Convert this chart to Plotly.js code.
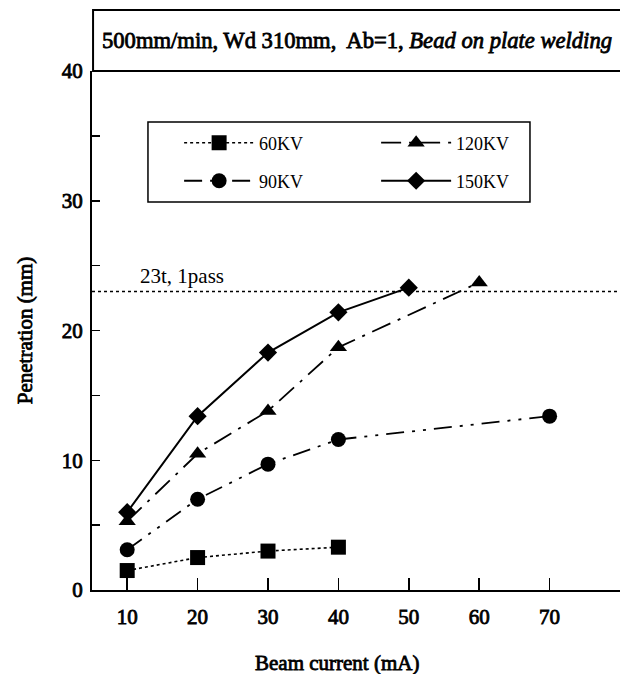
<!DOCTYPE html>
<html>
<head>
<meta charset="utf-8">
<script src="https://cdn.plot.ly/plotly-3.0.1.min.js"></script>
<style>
html,body{margin:0;padding:0;background:#fff;}
#chart{width:620px;height:674px;}
/* Times-like bold: the serif bold face is not installed, so embolden the regular face */
#chart .xtick text, #chart .ytick text, #chart .g-ytitle text,
#chart .annotation[data-index="1"] text, #chart .annotation[data-index="2"] text {
  stroke: #000; stroke-width: 0.8px; paint-order: stroke;
}
</style>
</head>
<body>
<div id="chart"></div>
<script>
// ---- data ----
const x60 = [10, 20, 30, 40];
const y60 = [1.5, 2.5, 3.0, 3.3];
const x90 = [10, 20, 30, 40, 70];
const y90 = [3.1, 7.0, 9.7, 11.6, 13.4];
const x120 = [10, 20, 30, 40, 60];
const y120 = [5.3, 10.5, 13.8, 18.7, 23.7];
const x150 = [10, 20, 30, 40, 50];
const y150 = [6.0, 13.4, 18.3, 21.4, 23.3];
const seriesNames = ['60KV', '90KV', '120KV', '150KV'];
const xTickVals = [10, 20, 30, 40, 50, 60, 70];
const yTickVals = [0, 5, 10, 15, 20, 25, 30, 35, 40];
const yTickText = ['0', '', '10', '', '20', '', '30', '', '40'];
const targetDepth = 23;
const targetLabel = '23t, 1pass';
const headerText = '500mm/min, Wd 310mm,  Ab=1, <i>Bead on plate welding</i>';
const xTitle = 'Beam current (mA)';
const yTitle = 'Penetration (mm)';

const serif = '"Liberation Serif", serif';
const traces = [
  {x: x60, y: y60, name: seriesNames[0], legend: 'legend', legendrank: 1, mode: 'lines+markers',
   line: {color: '#000', width: 1.6, dash: 'dot'},
   marker: {symbol: 'square', size: 15, color: '#000'}},
  {x: x90, y: y90, name: seriesNames[1], legend: 'legend2', legendrank: 3, mode: 'lines+markers',
   line: {color: '#000', width: 1.8, dash: '18px,8px,3px,8px,3px,8px'},
   marker: {symbol: 'circle', size: 15, color: '#000'}},
  {x: x120, y: y120, name: seriesNames[2], legend: 'legend', legendrank: 2, mode: 'lines+markers',
   line: {color: '#000', width: 1.8, dash: '20px,8px,3px,8px'},
   marker: {symbol: 'triangle-up', size: 15, color: '#000'}},
  {x: x150, y: y150, name: seriesNames[3], legend: 'legend2', legendrank: 4, mode: 'lines+markers',
   line: {color: '#000', width: 2},
   marker: {symbol: 'diamond', size: 14, color: '#000'}}
];

const legendCommon = {
  orientation: 'h', xanchor: 'left', yanchor: 'middle', x: 0.165,
  borderwidth: 0, bgcolor: 'rgba(0,0,0,0)',
  font: {family: serif, size: 18, color: '#000'},
  entrywidth: 112, itemwidth: 70
};

const layout = {
  width: 620, height: 674,
  margin: {l: 92, r: 0, t: 71, b: 84, pad: 0},
  paper_bgcolor: '#fff', plot_bgcolor: '#fff',
  font: {family: serif, color: '#000', size: 20},
  showlegend: true,
  legend: Object.assign({}, legendCommon, {y: 0.8613}),
  legend2: Object.assign({}, legendCommon, {y: 0.788}),
  xaxis: {
    range: [5, 80], tickvals: xTickVals, ticks: 'inside', ticklen: 12, tickwidth: 1.5,
    tickcolor: '#000', showline: true, linecolor: '#000', linewidth: 2,
    showgrid: false, zeroline: false, ticklabelstandoff: 7,
    tickfont: {family: serif, size: 21}
  },
  yaxis: {
    range: [0, 40], tickvals: yTickVals, ticktext: yTickText, ticks: 'inside', ticklen: 8,
    tickwidth: 1.5, tickcolor: '#000', showline: true, linecolor: '#000', linewidth: 2,
    showgrid: false, zeroline: false, ticklabelstandoff: 3,
    tickfont: {family: serif, size: 21},
    title: {text: yTitle, font: {family: serif, size: 21}, standoff: 23}
  },
  shapes: [
    {type: 'line', xref: 'paper', yref: 'y', x0: 0, x1: 1, y0: targetDepth, y1: targetDepth,
     line: {color: '#000', width: 1.5, dash: 'dot'}},
    {type: 'rect', xref: 'paper', yref: 'paper', x0: 0.002, x1: 1.05, y0: 1, y1: 1.1175,
     line: {color: '#000', width: 2}, fillcolor: 'rgba(0,0,0,0)'},
    {type: 'rect', xref: 'paper', yref: 'paper', x0: 0.106, x1: 0.8295, y0: 0.7476, y1: 0.9017,
     line: {color: '#000', width: 1.5}, fillcolor: 'rgba(0,0,0,0)'}
  ],
  annotations: [
    {xref: 'x', yref: 'y', x: 11.6, y: targetDepth, xanchor: 'left', yanchor: 'bottom', yshift: 2,
     text: targetLabel, showarrow: false, font: {family: serif, size: 21, color: '#000'}},
    {xref: 'paper', yref: 'paper', x: 0.015, y: 1.059, xanchor: 'left', yanchor: 'middle',
     text: headerText, showarrow: false, font: {family: serif, size: 22.6, color: '#000'}},
    {xref: 'paper', yref: 'paper', x: 0.464, y: -0.1407, xanchor: 'center', yanchor: 'middle',
     text: xTitle, showarrow: false, font: {family: serif, size: 21, color: '#000'}}
  ]
};

Plotly.newPlot('chart', traces, layout, {displayModeBar: false, staticPlot: true});
</script>
</body>
</html>
